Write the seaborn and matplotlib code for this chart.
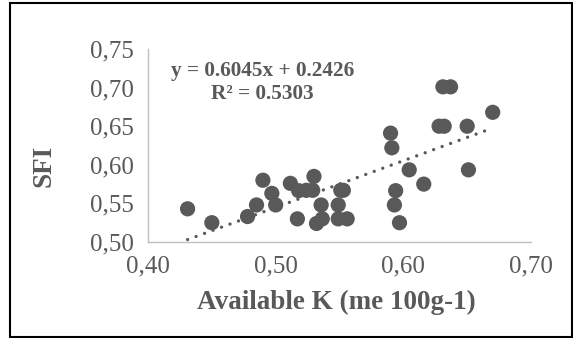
import matplotlib
matplotlib.use("Agg")
import matplotlib.pyplot as plt
import matplotlib.patches as mpatches
import numpy as np
import pandas as pd
import seaborn as sns

# data
available_k = [0.431, 0.450, 0.478, 0.485, 0.490, 0.497, 0.500, 0.5115, 0.517, 0.518,
               0.524, 0.529, 0.530, 0.532, 0.5356, 0.5365, 0.549, 0.549, 0.551, 0.553,
               0.556, 0.590, 0.591, 0.593, 0.594, 0.597, 0.6046, 0.616, 0.628, 0.632,
               0.631, 0.637, 0.650, 0.651, 0.670]
sfi = [0.543, 0.525, 0.533, 0.548, 0.580, 0.563, 0.548, 0.576, 0.530, 0.5665,
       0.567, 0.567, 0.585, 0.524, 0.548, 0.530, 0.548, 0.530, 0.567, 0.567,
       0.530, 0.641, 0.622, 0.548, 0.5665, 0.525, 0.5935, 0.575, 0.650, 0.650,
       0.701, 0.701, 0.650, 0.5935, 0.668]
slope = 0.6045
intercept = 0.2426
r_squared = 0.5303
x_ticks = [0.40, 0.50, 0.60, 0.70]
y_ticks = [0.50, 0.55, 0.60, 0.65, 0.70, 0.75]

df = pd.DataFrame({"K": available_k, "SFI": sfi})

sns.set_style("white")
plt.rcParams['font.family'] = ['Liberation Serif', 'DejaVu Serif']
grey = "#595959"
axis_grey = "#BFBFBF"

fig = plt.figure(figsize=(5.73, 3.38), dpi=100)
ax = fig.add_axes([0.2583, 0.284, 0.6684, 0.571])

sns.scatterplot(data=df, x="K", y="SFI", s=120, color=grey, edgecolor="none",
                linewidth=0, ax=ax, zorder=3, clip_on=False)

# linear trend line (Excel-style round dots)
xs = np.array([min(available_k), max(available_k)])
ax.plot(xs, slope * xs + intercept, color=grey, linewidth=2.4,
        linestyle=(0, (0.01, 2.7)), dash_capstyle='round', zorder=2)

ax.set_xlim(0.40, 0.70)
ax.set_ylim(0.50, 0.75)
ax.set_xticks(x_ticks)
ax.set_yticks(y_ticks)
ax.set_xticklabels([f"{v:.2f}".replace(".", ",") for v in x_ticks])
ax.set_yticklabels([f"{v:.2f}".replace(".", ",") for v in y_ticks])
ax.tick_params(axis='both', direction='out', length=5, width=1, color=axis_grey,
               labelsize=18, labelcolor=grey)
ax.tick_params(axis='x', pad=5)
ax.tick_params(axis='y', pad=5)

for side in ["top", "right"]:
    ax.spines[side].set_visible(False)
for side in ["left", "bottom"]:
    ax.spines[side].set_color(axis_grey)
    ax.spines[side].set_linewidth(1)

ax.set_xlabel("Available K (me 100g-1)", fontsize=19.5, fontweight='bold', color=grey, va='center')
ax.set_ylabel("SFI", fontsize=19.5, fontweight='bold', color=grey, va='center')
ax.xaxis.set_label_coords(0.492, -0.311)
ax.yaxis.set_label_coords(-0.2715, 0.394)

ax.text(0.298, 0.829, f"y = {slope}x + {intercept}\nR² = {r_squared}", transform=ax.transAxes,
        ha='center', va='center', fontsize=15.3, fontweight='bold', color=grey,
        linespacing=1.2)

fig.patches.append(mpatches.Rectangle((0.0175, 0.003), 0.981, 0.988, transform=fig.transFigure,
                                      fill=False, edgecolor="black", linewidth=1.5))

fig.savefig("out.png", dpi=100)
plt.close(fig)
